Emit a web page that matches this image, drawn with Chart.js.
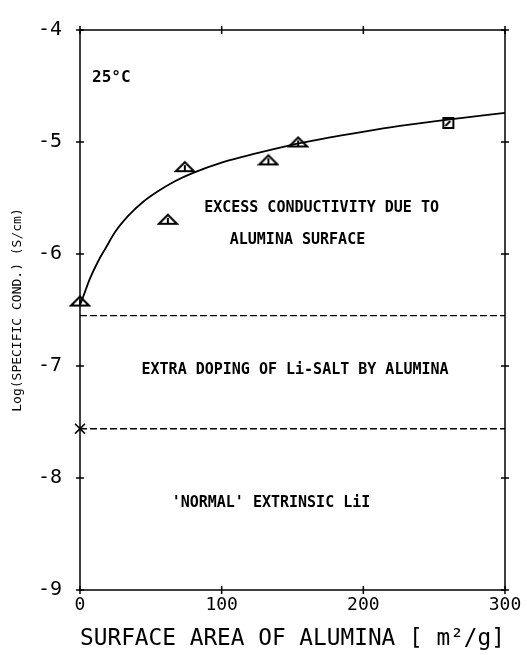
<!DOCTYPE html>
<html>
<head>
<meta charset="utf-8">
<script src="https://cdn.jsdelivr.net/npm/chart.js@4.4.1/dist/chart.umd.min.js"></script>
<style>
html,body{margin:0;padding:0;background:#fff;}
canvas{display:block;}
</style>
</head>
<body>
<canvas id="c" width="527" height="655"></canvas>
<script>
// ---- data ----
const curveX = [0, 2.3, 7, 13, 18, 25, 34, 44, 55, 67, 79, 101, 125, 148, 172, 190, 219, 254, 300];
const curveY = [-6.46, -6.38, -6.22, -6.06, -5.95, -5.80, -5.66, -5.54, -5.44, -5.35, -5.28, -5.18, -5.10, -5.03, -4.97, -4.93, -4.87, -4.81, -4.74];
const triangleX = [0, 62, 74, 133, 154];
const triangleY = [-6.42, -5.69, -5.22, -5.16, -5.00];
const squareX = [260];
const squareY = [-4.83];
const crossX = [0];
const crossY = [-7.56];
const dashedLevels = [-6.55, -7.56];
const xTickValues = [0, 100, 200, 300];
const yTickValues = [-9, -8, -7, -6, -5, -4];
const xTitle = 'SURFACE AREA OF ALUMINA [ m²/g]';
const yTitle = 'Log(SPECIFIC COND.) (S/cm)';
const annotationTexts = ['25°C', 'EXCESS CONDUCTIVITY DUE TO', 'ALUMINA SURFACE',
  'EXTRA DOPING OF Li-SALT BY ALUMINA', "'NORMAL' EXTRINSIC LiI"];

const FONT = '"DejaVu Sans Mono", "Liberation Mono", monospace';

function pairs(xs, ys){ return xs.map((x,i)=>({x:x, y:ys[i]})); }

// custom marker images
function triangleMarker(){
  const c = document.createElement('canvas'); c.width = 22; c.height = 13;
  const g = c.getContext('2d');
  g.strokeStyle = '#000'; g.lineWidth = 2; g.lineJoin = 'miter';
  g.beginPath(); g.moveTo(2,11); g.lineTo(11,2); g.lineTo(20,11); g.closePath(); g.stroke();
  g.beginPath(); g.moveTo(11,5); g.lineTo(11,11); g.stroke();
  return c;
}
function squareMarker(){
  const c = document.createElement('canvas'); c.width = 16; c.height = 16;
  const g = c.getContext('2d');
  g.strokeStyle = '#000'; g.lineWidth = 2;
  g.strokeRect(3,3,10,10);
  g.beginPath(); g.moveTo(5,11); g.lineTo(10,6); g.stroke();
  return c;
}

const annotationPos = [
  {x: 8.5, y: -4.43, align: 'left', size: 16},
  {x: 170.5, y: -5.59, align: 'center', size: 15},
  {x: 153.5, y: -5.88, align: 'center', size: 15},
  {x: 151.8, y: -7.04, align: 'center', size: 15},
  {x: 134.8, y: -8.22, align: 'center', size: 15}
];

const decorPlugin = {
  id: 'decor',
  afterDatasetsDraw(chart){
    const ctx = chart.ctx, a = chart.chartArea;
    const xs = chart.scales.x, ys = chart.scales.y;
    ctx.save();
    ctx.strokeStyle = '#000'; ctx.lineWidth = 1.5;
    // frame
    ctx.strokeRect(a.left, a.top, a.right - a.left, a.bottom - a.top);
    // cross ticks
    const t = 4;
    ctx.beginPath();
    yTickValues.forEach(v=>{
      const py = ys.getPixelForValue(v);
      ctx.moveTo(a.left - t, py); ctx.lineTo(a.left + t, py);
      ctx.moveTo(a.right - t, py); ctx.lineTo(a.right + t, py);
    });
    xTickValues.forEach(v=>{
      const px = xs.getPixelForValue(v);
      ctx.moveTo(px, a.top - t); ctx.lineTo(px, a.top + t);
      ctx.moveTo(px, a.bottom - t); ctx.lineTo(px, a.bottom + t);
    });
    ctx.stroke();
    // annotations
    ctx.fillStyle = '#000'; ctx.textBaseline = 'middle';
    annotationTexts.forEach((txt,i)=>{
      const p = annotationPos[i];
      ctx.font = 'bold ' + p.size + 'px ' + FONT;
      ctx.textAlign = p.align;
      ctx.fillText(txt, xs.getPixelForValue(p.x), ys.getPixelForValue(p.y));
    });
    ctx.restore();
  }
};

const datasets = [
  {type:'line', data: pairs(curveX, curveY), borderColor:'#000', borderWidth:1.8,
   pointRadius:0, cubicInterpolationMode:'monotone', fill:false, clip:false, order:3},
];
dashedLevels.forEach(v=>{
  datasets.push({type:'line', data:[{x:0,y:v},{x:300,y:v}], borderColor:'#000', borderWidth:1.4,
    borderDash:[7,3], pointRadius:0, fill:false, clip:false, order:4});
});
datasets.push({type:'scatter', data: pairs(triangleX, triangleY), pointStyle: triangleMarker(),
  pointRadius:8, clip:false, order:1});
datasets.push({type:'scatter', data: pairs(squareX, squareY), pointStyle: squareMarker(),
  pointRadius:8, clip:false, order:1});
datasets.push({type:'scatter', data: pairs(crossX, crossY), pointStyle:'crossRot',
  pointRadius:7, borderColor:'#000', borderWidth:1.6, clip:false, order:1});

new Chart(document.getElementById('c'), {
  data: {datasets},
  options: {
    responsive:false, animation:false,
    layout:{padding:{top:24, right:22, left:0, bottom:0}},
    plugins:{legend:{display:false}, tooltip:{enabled:false}},
    scales:{
      x:{type:'linear', min:0, max:300,
        afterBuildTicks(s){ s.ticks = xTickValues.map(v=>({value:v})); },
        ticks:{color:'#000', font:{family:FONT, size:18}, padding:5, maxRotation:0,
          callback:(v)=>String(v)},
        grid:{display:false, drawTicks:false},
        border:{display:false},
        title:{display:true, text:xTitle, color:'#000', font:{family:FONT, size:23},
          padding:{top:0, bottom:2}},
        afterFit(s){ s.height = 65; }
      },
      y:{type:'linear', min:-9, max:-4,
        afterBuildTicks(s){ s.ticks = yTickValues.map(v=>({value:v})); },
        ticks:{color:'#000', font:{family:FONT, size:20}, padding:18,
          callback:(v)=>String(v)},
        grid:{display:false, drawTicks:false},
        border:{display:false},
        title:{display:true, text:yTitle, color:'#000', font:{family:FONT, size:13},
          padding:{top:10, bottom:0}},
        afterFit(s){ s.width = 80; }
      }
    }
  },
  plugins:[decorPlugin]
});
</script>
</body>
</html>
